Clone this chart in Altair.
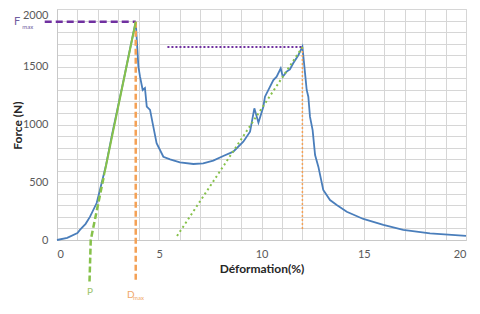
import altair as alt
import pandas as pd

# Blue force-deformation curve
curve_x = [0, 0.5, 1.0, 1.12, 1.4, 1.61, 1.94, 2.1, 2.4, 2.7, 3.0, 3.3, 3.6, 3.85,
           3.98, 4.06, 4.19, 4.3, 4.39, 4.55, 4.71, 4.87, 5.2, 5.53, 6.01, 6.67, 7.15,
           7.64, 8.13, 8.62, 9.11, 9.44, 9.65, 9.85, 10.09, 10.17, 10.58, 10.74, 10.94,
           11.04, 11.23, 11.39, 11.55, 11.8, 12.0, 12.13, 12.21, 12.29, 12.37, 12.5,
           12.62, 12.78, 13.02, 13.35, 13.68, 14.17, 14.98, 15.96, 16.93, 18.24, 20.0]
curve_y = [0, 18, 60, 87, 140, 200, 320, 433, 650, 920, 1170, 1420, 1680, 1890,
           1500, 1414, 1299, 1316, 1154, 1126, 981, 838, 721, 698, 672, 658, 664,
           687, 727, 765, 851, 938, 1140, 1016, 1154, 1241, 1385, 1414, 1486,
           1414, 1458, 1478, 1530, 1600, 1674, 1443, 1299, 1241, 1068, 952,
           736, 635, 433, 346, 303, 245, 182, 130, 87, 58, 35]

# Annotation lines
fmax_x = [-0.6, 3.85]
fmax_y = [1890, 1890]
dmax_x = [3.85, 3.85]
dmax_y = [1890, -360]
tangent_x = [2.3, 3.85]
tangent_y = [560, 1890]
p_x = [1.59, 1.65, 2.3]
p_y = [-360, 0, 560]
peak2_h_x = [5.4, 12.0]
peak2_h_y = [1670, 1670]
peak2_v_x = [12.0, 12.0]
peak2_v_y = [1670, 80]
tangent2_x = [5.87, 12.0]
tangent2_y = [35, 1670]

x_ticks = list(range(0, 21))
y_ticks = list(range(0, 2001, 100))

xs = alt.Scale(domain=[0, 20], nice=False, zero=False)
ys = alt.Scale(domain=[0, 2000], nice=False)

FONT = "Lato"
PURPLE = "#7030A0"
ORANGE = "#F4A156"
GREEN = "#86C14A"
BLUE = "#4A7EBB"
GRID = "#d6d6d6"

def seg(xv, yv, **mark):
    df = pd.DataFrame({"x": xv, "y": yv, "o": list(range(len(xv)))})
    return alt.Chart(df).mark_line(**mark).encode(
        x=alt.X("x:Q", scale=xs), y=alt.Y("y:Q", scale=ys), order="o:Q")

curve_df = pd.DataFrame({"x": curve_x, "y": curve_y, "o": list(range(len(curve_x)))})
base = alt.Chart(curve_df).mark_line(color=BLUE, strokeWidth=1.8).encode(
    x=alt.X("x:Q", scale=xs, title="Déformation(%)",
            axis=alt.Axis(values=x_ticks, tickCount=100, grid=True, gridColor=GRID,
                          format="d",
                          labelExpr="datum.value % 5 == 0 ? datum.label : ''",
                          labelOverlap=False, ticks=False, labelPadding=8,
                          titlePadding=4)),
    y=alt.Y("y:Q", scale=ys, title="Force (N)",
            axis=alt.Axis(values=y_ticks, tickCount=100, grid=True, gridColor=GRID,
                          format="d",
                          labelExpr="datum.value % 500 == 0 ? datum.label : ''",
                          labelOffset={"condition": {"test": "datum.value == 2000",
                                                     "value": 6},
                                       "value": 0},
                          labelOverlap=False, ticks=False, labelPadding=9,
                          titleX=-40, titleY=116, titleAngle=270,
                          titleAlign="center", titleBaseline="middle")),
    order="o:Q",
)

def label(txt, xv, yv, color, size, align="left"):
    df = pd.DataFrame({"x": [xv], "y": [yv], "t": [txt]})
    return alt.Chart(df).mark_text(color=color, fontSize=size, font=FONT,
                                   align=align, baseline="middle").encode(
        x=alt.X("x:Q", scale=xs), y=alt.Y("y:Q", scale=ys), text="t:N")

layers = [
    base,
    seg(fmax_x, fmax_y, color=PURPLE, strokeWidth=2.5, strokeDash=[7, 4]),
    seg(dmax_x, dmax_y, color=ORANGE, strokeWidth=2.5, strokeDash=[6, 3]),
    seg(p_x, p_y, color=GREEN, strokeWidth=2.5, strokeDash=[6, 3]),
    seg(tangent_x, tangent_y, color=GREEN, strokeWidth=2),
    seg(peak2_h_x, peak2_h_y, color=PURPLE, strokeWidth=2, strokeDash=[2, 2]),
    seg(peak2_v_x, peak2_v_y, color=ORANGE, strokeWidth=1.5, strokeDash=[2, 2]),
    seg(tangent2_x, tangent2_y, color=GREEN, strokeWidth=2, strokeDash=[2, 3]),
    label("F", -2.1, 1890, "#7060A0", 11),
    label("max", -1.7, 1845, "#7060A0", 6),
    label("P", 1.61, -450, "#9CC46A", 10, "center"),
    label("D", 3.42, -476, "#F0A868", 10),
    label("max", 3.72, -500, "#F0A868", 6),
]

chart = alt.layer(*layers).properties(
    width=409, height=231,
    autosize=alt.AutoSizeParams(type="none"),
    padding={"left": 49, "top": 1, "right": 6, "bottom": 66},
).configure_view(stroke=GRID).configure_axis(
    gridColor=GRID, domainColor="#c8c8c8", labelColor="#595959",
    labelFont=FONT, labelFontSize=11, titleFont=FONT, titleFontSize=12,
    titleFontWeight="bold", titleColor="#262626",
)

chart.save("out.html", embed_options={"renderer": "svg", "actions": False})
